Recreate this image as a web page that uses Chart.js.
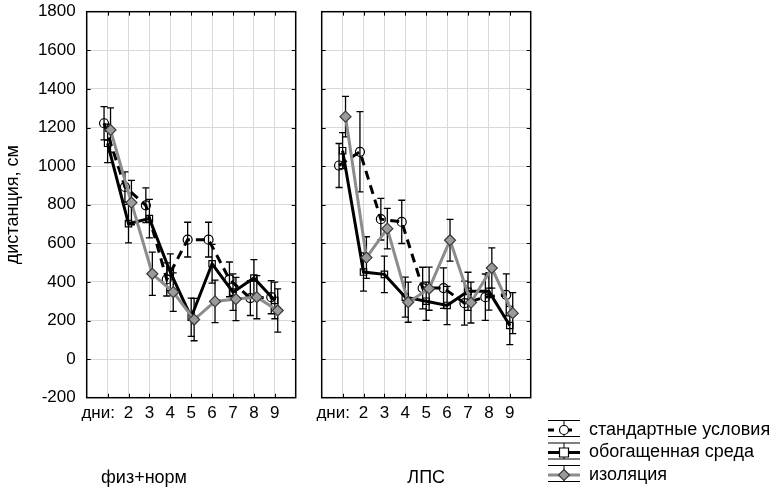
<!DOCTYPE html>
<html><head><meta charset="utf-8">
<script src="https://cdn.jsdelivr.net/npm/chart.js@4"></script>
<style>
html,body{margin:0;padding:0;background:#fff;}
#wrap{position:relative;width:779px;height:491px;overflow:hidden;background:#fff;}
#c1{position:absolute;left:0;top:0;}
#c2{position:absolute;left:305px;top:0;}
</style></head><body>
<div id="wrap"><canvas id="c1" width="305" height="491"></canvas><canvas id="c2" width="474" height="491"></canvas></div>
<script>
// ---- data ----
const days = [1, 2, 3, 4, 5, 6, 7, 8, 9];
const xTickLabels = ['дни:', '2', '3', '4', '5', '6', '7', '8', '9'];
const yMin = -200, yMax = 1800, yStep = 200;
const seriesNames = ['стандартные условия', 'обогащенная среда', 'изоляция'];
const panelNames = ['физ+норм', 'ЛПС'];
const yTitle = 'дистанция, см';

// физ+норм
const fizStandard     = [1222, 892, 797, 413, 619, 619, 413, 316, 321];
const fizStandardErr  = [86, 78, 90, 86, 90, 90, 90, 90, 86];
const fizEnriched     = [1118, 702, 728, 450, 217, 494, 347, 420, 304];
const fizEnrichedErr  = [100, 100, 100, 95, 99, 100, 95, 95, 95];
const fizIsolation    = [1187, 811, 442, 347, 205, 299, 311, 321, 252];
const fizIsolationErr = [115, 115, 112, 100, 110, 110, 112, 112, 112];

// ЛПС
const lpsStandard     = [1003, 1074, 725, 711, 368, 368, 290, 321, 333];
const lpsStandardErr  = [114, 208, 108, 112, 108, 105, 114, 120, 109];
const lpsEnriched     = [1080, 451, 439, 321, 300, 278, 351, 351, 174];
const lpsEnrichedErr  = [93, 99, 95, 104, 99, 99, 99, 97, 99];
const lpsIsolation    = [1256, 526, 676, 295, 365, 616, 293, 472, 238];
const lpsIsolationErr = [105, 108, 105, 104, 112, 108, 106, 104, 106];

// ---- styles ----
const FONT = "'Liberation Sans', Arial, sans-serif";
const TICK_SIZE = 17, TEXT_SIZE = 18;
const styles = [
  {color:'#000', width:3, dash:[9,6], point:'circle', radius:4.5, fill:'rgba(255,255,255,0)', pborder:'#000', off:-0.17, order:2},
  {color:'#000', width:3, dash:[], point:'rect', radius:4.5, fill:'rgba(255,255,255,0)', pborder:'#000', off:0, order:1},
  {color:'#8c8c8c', width:3, dash:[], point:'rectRot', radius:5.5, fill:'#9a9a9a', pborder:'#3a3a3a', off:0.14, order:0}
];

function makeDatasets(vals, errs) {
  return vals.map((v, k) => {
    const s = styles[k];
    return {
      label: seriesNames[k],
      data: days.map((d, i) => ({x: d + s.off, y: v[i]})),
      errors: errs[k],
      borderColor: s.color, borderWidth: s.width, borderDash: s.dash,
      pointStyle: s.point, pointRadius: s.radius, pointBackgroundColor: s.fill,
      pointBorderColor: s.pborder, pointBorderWidth: 1.2, tension: 0, order: s.order, fill: false
    };
  });
}

const frameAndErrors = {
  id: 'frameAndErrors',
  beforeDatasetsDraw(chart) {
    const ctx = chart.ctx, xs = chart.scales.x, ys = chart.scales.y;
    ctx.save();
    ctx.strokeStyle = '#000'; ctx.lineWidth = 1.3; ctx.setLineDash([]);
    chart.data.datasets.forEach(ds => {
      ds.data.forEach((p, i) => {
        const e = ds.errors[i];
        const x = xs.getPixelForValue(p.x);
        const y1 = ys.getPixelForValue(p.y + e), y2 = ys.getPixelForValue(p.y - e);
        ctx.beginPath();
        ctx.moveTo(x, y1); ctx.lineTo(x, y2);
        ctx.moveTo(x - 3.5, y1); ctx.lineTo(x + 3.5, y1);
        ctx.moveTo(x - 3.5, y2); ctx.lineTo(x + 3.5, y2);
        ctx.stroke();
      });
    });
    ctx.restore();
  },
  afterDraw(chart) {
    const ctx = chart.ctx, a = chart.chartArea, xs = chart.scales.x, ys = chart.scales.y;
    ctx.save();
    ctx.strokeStyle = '#000'; ctx.lineWidth = 1.5; ctx.setLineDash([]);
    ctx.strokeRect(a.left, a.top, a.right - a.left, a.bottom - a.top);
    ctx.lineWidth = 1;
    ctx.beginPath();
    days.forEach(d => {
      const x = Math.round(xs.getPixelForValue(d)) + 0.5;
      ctx.moveTo(x, a.bottom); ctx.lineTo(x, a.bottom - 4);
      ctx.moveTo(x, a.top); ctx.lineTo(x, a.top + 4);
    });
    for (let v = yMin + yStep; v < yMax; v += yStep) {
      const y = Math.round(ys.getPixelForValue(v)) + 0.5;
      ctx.moveTo(a.left, y); ctx.lineTo(a.left + 4, y);
      ctx.moveTo(a.right, y); ctx.lineTo(a.right - 4, y);
    }
    ctx.stroke();
    // panel label
    const o = chart.options.plugins.frameAndErrors;
    ctx.fillStyle = '#000';
    ctx.font = TEXT_SIZE + 'px ' + FONT;
    ctx.textAlign = 'center'; ctx.textBaseline = 'middle';
    ctx.fillText(o.panel, a.left + o.panelDx, 478);
    if (o.legend) {
      const lx0 = a.right + 17.3, lx1 = lx0 + 32, cx = (lx0 + lx1) / 2;
      const rows = [430, 452.5, 475];
      seriesNames.forEach((name, k) => {
        const s = styles[k], yc = rows[k];
        ctx.strokeStyle = '#000'; ctx.lineWidth = 1; ctx.setLineDash([]);
        ctx.beginPath();
        ctx.moveTo(lx0, yc - 9.5); ctx.lineTo(lx1, yc - 9.5);
        ctx.moveTo(lx0, yc + 6.5); ctx.lineTo(lx1, yc + 6.5);
        ctx.moveTo(cx, yc - 9.5); ctx.lineTo(cx, yc + 6.5);
        ctx.stroke();
        ctx.strokeStyle = s.color; ctx.lineWidth = s.width;
        ctx.setLineDash(k === 0 ? [6, 12] : []);
        ctx.beginPath(); ctx.moveTo(lx0, yc); ctx.lineTo(lx1, yc); ctx.stroke();
        ctx.setLineDash([]);
        ctx.lineWidth = 1.2; ctx.strokeStyle = s.pborder; ctx.fillStyle = k === 2 ? s.fill : '#fff';
        ctx.beginPath();
        if (k === 0) ctx.arc(cx, yc, 4.5, 0, Math.PI * 2);
        else if (k === 1) ctx.rect(cx - 4.5, yc - 4.5, 9, 9);
        else { ctx.moveTo(cx, yc - 5.5); ctx.lineTo(cx + 5.5, yc); ctx.lineTo(cx, yc + 5.5); ctx.lineTo(cx - 5.5, yc); ctx.closePath(); }
        ctx.fill(); ctx.stroke();
        ctx.fillStyle = '#000'; ctx.font = TEXT_SIZE + 'px ' + FONT;
        ctx.textAlign = 'left'; ctx.textBaseline = 'middle';
        ctx.fillText(name, lx1 + 9, yc);
      });
    }
    ctx.restore();
  }
};

function makeChart(id, vals, errs, isLeft) {
  const cw = isLeft ? 305 : 474;
  const left = isLeft ? 86.7 : 16.7;
  const right = isLeft ? 295.7 : 225.7;
  return new Chart(document.getElementById(id), {
    type: 'line',
    data: {datasets: makeDatasets(vals, errs)},
    options: {
      responsive: false, animation: false, devicePixelRatio: 1,
      layout: {padding: {left: 0, right: cw - right, top: 11.7, bottom: 0}},
      plugins: {
        legend: {display: false}, tooltip: {enabled: false},
        frameAndErrors: {panel: panelNames[isLeft ? 0 : 1], panelDx: isLeft ? 57.3 : 104.5, legend: !isLeft}
      },
      scales: {
        x: {
          type: 'linear', min: 0, max: 10,
          grid: {color: '#d9d9d9', lineWidth: 1, drawTicks: false},
          border: {display: false},
          ticks: {
            stepSize: 1, autoSkip: false, maxRotation: 0, padding: 5,
            color: '#000', font: {family: FONT, size: TICK_SIZE},
            callback: v => (v >= 1 && v <= 9) ? (v === 1 ? xTickLabels[0] + '\u00a0\u00a0\u00a0\u00a0' : xTickLabels[v - 1]) : ''
          },
          afterFit: s => { s.height = 491 - 397.7; s.paddingLeft = 0; s.paddingRight = 0; }
        },
        y: {
          min: yMin, max: yMax,
          grid: {color: '#d9d9d9', lineWidth: 1, drawTicks: false},
          border: {display: false},
          ticks: {stepSize: yStep, display: isLeft, color: '#000', font: {family: FONT, size: TICK_SIZE}, padding: 11,
                  callback: v => String(v)},
          title: {display: isLeft, text: yTitle, color: '#000', font: {family: FONT, size: TEXT_SIZE}, padding: {top: 2, bottom: 2}},
          afterFit: s => { s.width = left; s.paddingTop = 0; s.paddingBottom = 0; }
        }
      }
    },
    plugins: [frameAndErrors]
  });
}

makeChart('c1', [fizStandard, fizEnriched, fizIsolation], [fizStandardErr, fizEnrichedErr, fizIsolationErr], true);
makeChart('c2', [lpsStandard, lpsEnriched, lpsIsolation], [lpsStandardErr, lpsEnrichedErr, lpsIsolationErr], false);
</script>
</body></html>
